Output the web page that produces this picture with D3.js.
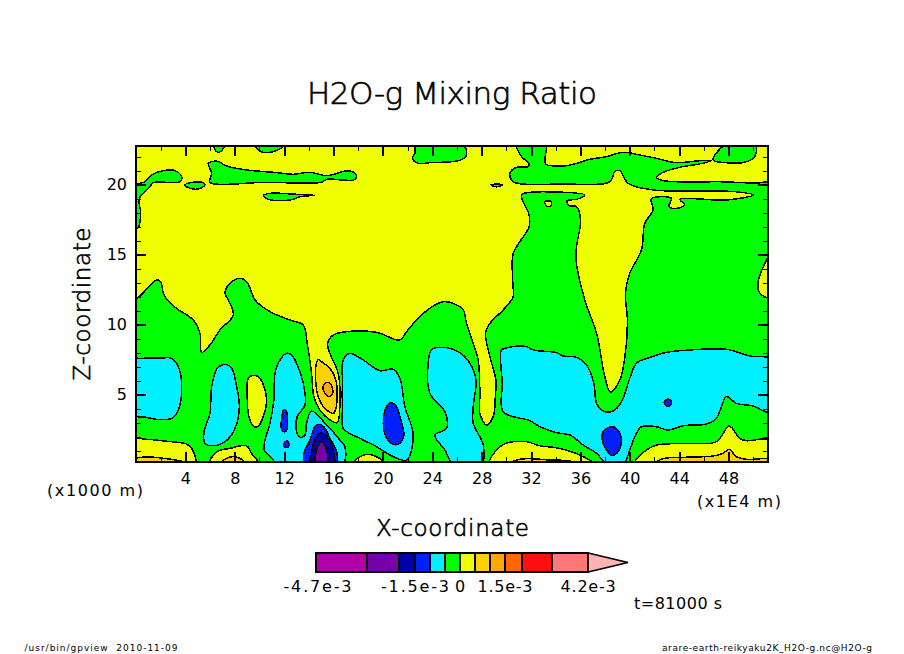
<!DOCTYPE html>
<html><head><meta charset="utf-8">
<script src="https://cdn.jsdelivr.net/npm/d3@7"></script>
<style>
html,body{margin:0;padding:0;background:#fff}
svg{display:block}
text{font-family:"DejaVu Sans",sans-serif;fill:#000}
</style></head><body><svg id="c" width="904" height="654"></svg>
<script>
const titleText="H2O-g Mixing Ratio", xTitle="X-coordinate", zTitle="Z-coordinate";
const xMajor=[4,8,12,16,20,24,28,32,36,40,44,48];
const xMinor=[2,6,10,14,18,22,26,30,34,38,42,46,50];
const zMajor=[5,10,15,20];
const zMinor=[1,2,3,4,6,7,8,9,11,12,13,14,16,17,18,19,21,22];
const levels=[-4.8e-3,-3.1e-3,-2.05e-3,-1.5e-3,-1e-3,-5e-4,0,5e-4,1e-3,1.5e-3,2.05e-3,3.05e-3,4.27e-3,5.6e-3];
const bandColors=["#b000a8","#7800a8","#0000a8","#0020ff","#00f0ff","#00ff00","#f0ff00","#ffd000","#ffa800","#ff6800","#ff1010","#ff7878","#ffb4b4"];
const barTicks=[["-4.7e-3",-4.75e-3,68],["-1.5e-3",-1.5e-3,68],["0",0,10],["1.5e-3",1.5e-3,55],["4.2e-3",4.27e-3,55]];

// contour outlines, [x (1E4 m), z (1000 m)]
const yellowMain=[[-.2,23],[25,23],[51.4,23],[51.4,21],[51.4,20.34],[47.02,20.22],[42.7,20.3],[42.16,20.53],[42.7,20.89],[44.32,21.3],[45.67,21.49],[46.62,21.72],[45.67,21.72],[43.78,21.58],[42.16,21.89],[40.81,22.13],[39.46,22.32],[38.12,22.01],[36.77,21.82],[35.69,21.53],[34.61,21.34],[33.18,21.49],[33.15,22],[33.2,23],[30.83,23],[31.23,22.01],[31.83,21.53],[31.77,21.3],[30.83,21.25],[30.29,20.82],[30.56,20.22],[34.61,20.06],[38.39,20.22],[38.79,20.94],[39.2,21.01],[39.87,20.1],[41.89,19.63],[44.32,19.56],[48.51,19.51],[50,19.27],[47.83,18.91],[44.05,18.96],[44.46,18.56],[43.78,18.32],[43.16,18.44],[43.38,19.03],[41.76,18.99],[41.89,18.2],[41.22,17.25],[40.95,15.34],[40,13.68],[39.65,12.25],[39.8,10.5],[39.73,8.67],[39.2,6.06],[38.44,5.18],[37.98,6.29],[37.31,9.39],[36.36,11.77],[35.63,14.87],[36.01,17.49],[35.69,18.44],[35.09,18.51],[34.93,18.87],[35.69,18.96],[36.36,19.27],[31.91,19.46],[31.23,19.27],[31.85,17.84],[31.85,17.01],[30.56,15.1],[30.5,13.5],[30.56,12.01],[30.42,11.77],[29.75,11.06],[28.67,10.1],[28.32,9.39],[28.67,7.72],[29.15,6.06],[29.1,4.7],[28.94,3.44],[28.4,2.84],[27.86,3.67],[27.86,5.1],[27.72,7.48],[27.32,8.67],[26.78,10.1],[26.51,11.06],[25.83,11.48],[24.89,11.65],[23.27,10.82],[21.92,9.51],[21.38,8.91],[19.49,9.46],[17.06,9.51],[15.98,9.27],[15.52,8.67],[15.71,7.96],[16.38,6.53],[16.52,4.63],[16.3,3.01],[15.71,3.2],[14.9,3.91],[14.41,4.87],[14.22,6.53],[13.87,8.67],[13.55,9.98],[12.47,10.34],[10.85,10.94],[9.64,11.77],[9.5,12],[8.96,13.08],[8.42,13.32],[7.61,12.96],[7.21,12.25],[7.48,11.77],[7.88,10.7],[6.8,9.63],[5.99,8.56],[5.32,8.03],[5.18,9.39],[4.64,10.34],[3.29,11.17],[2.54,11.77],[2.21,12.25],[2,13.08],[1.67,13.2],[-.2,11.8],[-.2,17]];
const greenLeftEdge=[[-.2,19.87],[.73,20.22],[1.27,20.7],[2.21,21.01],[3.16,21.01],[3.7,20.58],[3.56,20.22],[1.4,20.15],[1.13,19.87],[.27,19.03],[.38,17.96],[.19,16.96],[-.2,16.77]];
const greenSmallLeft=[[3.97,19.99],[4.64,20.18],[5.32,20.18],[5.59,19.99],[5.05,19.7],[4.37,19.75]];
const greenLongStrip=[[5.86,21.53],[6.59,21.68],[7.34,21.34],[8.96,21.06],[11.39,20.87],[12.74,20.75],[14.09,20.89],[15.44,20.65],[17.06,20.99],[17.65,20.89],[17.87,20.58],[17.65,20.34],[16.79,20.34],[15.44,20.39],[15.03,20.18],[10.5,20.18],[5.99,20.18],[6.13,20.82]];
const greenThinTail=[[10.31,19.22],[10.85,19.39],[13,19.32],[14.49,19.25],[13.28,19.15],[12.74,18.96],[11.12,18.89],[10.72,18.96]];
const greenTop1=[[6.34,23],[6.4,22.49],[6.67,22.32],[6.99,22.49],[7.21,23]];
const greenTop2=[[9.5,23],[9.91,22.49],[10.31,22.32],[11.39,22.44],[12.2,23]];
const greenTop3=[[22.73,23],[22.59,22.25],[22.4,21.89],[22.86,21.53],[23.81,21.58],[26.24,21.75],[26.78,22.13],[26.37,23]];
const greenTop4=[[47.97,23],[46.75,21.77],[47.83,21.58],[49.18,21.58],[50.13,22.01],[50.13,23]];
const greenTiny=[[28.75,20.01],[29.7,20.01],[29.34,19.87],[29.07,19.87]];
const yellowDot=[[33.12,18.8],[33.66,18.8],[33.61,18.51],[33.39,18.44],[33.2,18.56]];
const yellowRight=[[51.4,14.99],[50.4,13.08],[50.53,12.25],[51.4,11.96]];
const yellowLow1=[[-.2,1.82],[.86,1.82],[2.5,1.68],[4.1,1.48],[4.51,1.17],[4.78,.1],[-.2,.1]];
const goldLow1=[[-.2,.39],[.86,.56],[2.21,.46],[3.83,.22],[3.95,.1],[-.2,.1]];
const yellowLow2=[[6,.1],[6.53,.93],[7.61,1.17],[8.96,1.36],[9.36,.82],[9.9,.1]];
const goldLow2=[[6.86,.1],[7.34,.46],[7.88,.58],[8.56,.39],[8.83,.1]];
const yellowLow3=[[17.6,.1],[18.14,.58],[18.81,.75],[19.49,.58],[20.16,.1]];
const yellowLow4=[[28.67,.1],[29.48,1.29],[30.15,1.58],[31.64,1.65],[32.72,1.36],[34.34,1.17],[36.23,.58],[37.04,.1]];
const goldLow4=[[30.29,.1],[31.1,.39],[31.91,.44],[33.53,.34],[35.15,.27],[35.5,.1]];
const yellowLow5=[[40.41,.1],[41.35,1.06],[42.16,1.41],[44.32,1.53],[47.02,1.65],[48.05,2.77],[48.91,1.89],[49.45,1.72],[51.4,1.77],[51.4,.1]];
const goldLow5=[[42.03,.1],[42.7,.44],[44.32,.53],[46.75,.63],[47.56,.82],[48.05,1.1],[48.64,.58],[49.45,.39],[51.4,.39],[51.4,.1]];
const yellowIsland=[[9.64,6.39],[9.1,6.17],[9.01,4.87],[9.15,3.44],[9.55,2.72],[9.91,2.77],[10.36,3.56],[10.58,4.63],[10.39,5.53],[10.04,6.17]];
const cyanLeft=[[-.2,7.55],[.4,7.6],[2,7.63],[2.89,7.6],[3.43,7.01],[3.7,5.58],[3.43,3.91],[2.89,3.32],[1.67,3.25],[.86,3.39],[-.2,3.56],[-.4,5.5]];
const cyanSecond=[[7.21,7.17],[6.59,6.89],[6.13,5.58],[5.99,3.67],[5.51,2.37],[5.59,1.53],[6.13,1.36],[7.21,1.65],[8.02,2.6],[8.37,4.15],[8.15,5.58],[7.75,6.89]];
const cyanCentre=[[12.2,7.96],[11.66,7.48],[11.26,6.53],[11.17,4.63],[10.85,2.96],[10.45,1.77],[10.39,1.06],[11,.46],[11.4,.1],[14,-.2],[16.79,.1],[16.92,1.29],[16.52,1.77],[15.44,2.84],[14.22,3.84],[13.82,2.96],[13.69,2.13],[13.28,1.96],[13.01,2.37],[13.06,3.44],[13.69,4.27],[13.55,5.82],[13.01,7.25],[12.61,7.84]];
const cyanFourth=[[16.79,7.5],[17.33,7.96],[18.41,7.48],[19.76,6.72],[20.84,6.82],[21.38,6.17],[21.78,4.15],[22.46,2.13],[21.92,.34],[20.84,.58],[19.49,1.29],[18.14,1.89],[16.79,2.6],[16.72,4],[16.72,6]];
const cyanFifth=[[23.94,8.2],[24.89,8.39],[26.23,8.01],[27.05,7.25],[27.54,6.06],[27.32,4.15],[27.32,2.96],[28.13,1.41],[28,.1],[25.69,.1],[25.02,1.06],[24.21,2.13],[25.15,2.6],[25.02,3.79],[23.81,5.1],[23.67,7.25]];
const cyanBig=[[29.61,8.2],[30.56,8.44],[31.64,8.44],[32.18,8.2],[34.07,8.01],[34.61,7.77],[35.69,7.67],[36.5,7.13],[37.09,5.82],[37.31,4.39],[37.85,3.84],[38.66,3.84],[39.33,4.51],[40,6.17],[40.54,7.25],[41.62,7.67],[42.97,8.03],[44.86,8.2],[47.83,8.25],[49.72,7.77],[51.4,7.56],[51.6,5.5],[51.4,3.75],[49.99,4.2],[48.64,4.39],[47.83,4.87],[47.43,4.15],[47.02,3.32],[46.21,2.91],[44.32,2.79],[43.11,2.48],[42.16,2.72],[40.95,2.72],[40.41,2.01],[40,1.06],[39.52,.1],[38.12,.1],[37.31,.82],[36.23,1.41],[35.15,2.13],[34.07,2.29],[32.72,2.72],[31.91,3.15],[29.75,3.79],[29.67,5.82],[29.53,7.72]];
const blueA=[[11.93,3.91],[12.15,3.91],[12.28,2.72],[12.2,2.44],[11.93,2.37],[11.74,2.72],[11.82,3.32]];
const blueB=[[11.98,1.53],[12.25,1.72],[12.42,1.41],[12.2,1.22],[12.01,1.29]];
const blueC=[[20.7,4.44],[20.3,4.15],[20.03,2.96],[20.24,2.01],[20.84,1.46],[21.38,1.53],[21.7,2.13],[21.38,3.44],[21.11,4.15]];
const blueD=[[43.11,4.7],[43.3,4.62],[43.38,4.44],[43.3,4.26],[43.11,4.15],[42.92,4.26],[42.79,4.44],[42.92,4.62]];
const blueE=[[38.39,2.7],[38.84,2.65],[39.2,2.25],[39.33,1.65],[39.06,.94],[38.57,.65],[38.12,1.06],[37.79,1.65],[37.85,2.37]];
const blueF=[[14.84,2.89],[14.49,2.72],[14.09,1.77],[13.6,.82],[13.68,.1],[16.25,.1],[16.25,.93],[15.71,1.89],[15.22,2.72]];
const navyF=[[14.9,2.25],[14.49,1.77],[14.22,.82],[14.22,.1],[16.03,.1],[15.98,1.06],[15.57,1.89],[15.22,2.2]];
const purpleF=[[15.03,1.65],[14.68,1.17],[14.57,.1],[15.44,.1],[15.44,1.06]];
const goldLens=[[14.76,7.53],[14.57,7.01],[14.57,5.82],[14.76,4.87],[15.3,4.03],[15.98,3.67],[16.11,3.79],[16.3,4.87],[16.19,6.06],[15.71,6.89],[15.03,7.37]];
const orangeLens=[[15.44,5.89],[15.17,5.63],[15.3,5.1],[15.63,4.87],[15.9,5.03],[15.9,5.53],[15.71,5.82]];

// painter's order: [band index, outline]
const layers=[[6,yellowMain],[5,greenLeftEdge],[5,greenSmallLeft],[5,greenLongStrip],[5,greenThinTail],[5,greenTop1],[5,greenTop2],[5,greenTop3],[5,greenTop4],[5,greenTiny],
[6,yellowDot],[6,yellowRight],[6,yellowLow1],[7,goldLow1],[6,yellowLow2],[7,goldLow2],[6,yellowLow3],[6,yellowLow4],[7,goldLow4],[6,yellowLow5],[7,goldLow5],[6,yellowIsland],
[4,cyanLeft],[4,cyanSecond],[4,cyanCentre],[4,cyanFourth],[4,cyanFifth],[4,cyanBig],
[3,blueA],[3,blueB],[3,blueC],[3,blueD],[3,blueE],[3,blueF],[2,navyF],[1,purpleF],[7,goldLens],[8,orangeLens]];

const svg=d3.select("#c");
const L=136,R=768,T=146,B=462;
const x=d3.scaleLinear().domain([0,51.2]).range([L,R]);
const z=d3.scaleLinear().domain([.2,22.77]).range([B,T]);
const defs=svg.append("defs");
defs.append("clipPath").attr("id","plot").append("rect").attr("x",L).attr("y",T).attr("width",R-L).attr("height",B-T);

const plot=svg.append("g").attr("clip-path","url(#plot)");
plot.append("rect").attr("x",L).attr("y",T).attr("width",R-L).attr("height",B-T).attr("fill",bandColors[5]);
const line=d3.line().x(d=>x(d[0])).y(d=>z(d[1])).curve(d3.curveCatmullRomClosed.alpha(.5));
plot.selectAll("path").data(layers).join("path")
  .attr("d",d=>line(d[1])).attr("fill",d=>bandColors[d[0]])
  .attr("stroke","#000").attr("stroke-width",1.5).attr("stroke-linejoin","round").attr("shape-rendering","crispEdges");

function axisDraw(gen,tx,ty,w){
  const g=svg.append("g").attr("transform",`translate(${tx},${ty})`).call(gen);
  g.select(".domain").remove();
  g.selectAll("line").attr("stroke","#000").attr("stroke-width",w).attr("shape-rendering","crispEdges");
  return g;
}
const none=()=> "";
[[d3.axisBottom,B],[d3.axisTop,T]].forEach(([a,p],i)=>{
  const maj=axisDraw(a(x).tickValues(xMajor).tickSizeInner(-10).tickSizeOuter(0).tickPadding(i?0:11).tickFormat(i?none:d3.format("d")),0,p,2);
  axisDraw(a(x).tickValues(xMinor).tickSizeInner(-5).tickSizeOuter(0).tickFormat(none),0,p,1);
  maj.selectAll("text").attr("font-size",16).attr("font-family",'"DejaVu Sans"').attr("fill","#000");
});
[[d3.axisLeft,L],[d3.axisRight,R]].forEach(([a,p],i)=>{
  const maj=axisDraw(a(z).tickValues(zMajor).tickSizeInner(-10).tickSizeOuter(0).tickPadding(9).tickFormat(i?none:d3.format("d")),p,0,2);
  axisDraw(a(z).tickValues(zMinor).tickSizeInner(-5).tickSizeOuter(0).tickFormat(none),p,0,1);
  maj.selectAll("text").attr("font-size",16).attr("font-family",'"DejaVu Sans"').attr("fill","#000");
});
svg.append("rect").attr("x",L).attr("y",T).attr("width",R-L).attr("height",B-T).attr("fill","none").attr("stroke","#000").attr("stroke-width",2).attr("shape-rendering","crispEdges");

function label(s,cx,cy,size,len,rot,weight){
  const t=svg.append("text").text(s).attr("text-anchor","middle").attr("dominant-baseline","central")
    .attr("font-size",size).attr("textLength",len).attr("lengthAdjust","spacing");
  if(weight) t.attr("font-weight",weight).attr("stroke","#000").attr("stroke-width",.6);
  t.attr("transform",`translate(${cx},${cy})`+(rot?` rotate(${rot})`:""));
  return t;
}
label(titleText,452,93,31,290,0,200);
label(xTitle,452.5,528,23,153,0,200);
label(zTitle,82,304,23,153,-90,200);
label("(x1000 m)",95,490,16,96);
label("(x1E4 m)",739,501,16,84);
label("t=81000 s",678,603,16,88);
label("/usr/bin/gpview  2010-11-09",101,648,9,153).style("white-space","pre");
label("arare-earth-reikyaku2K_H2O-g.nc@H2O-g",767,648,9,210);

// colour bar
const c=d3.scaleLinear().domain([0,5.6e-3]).range([460,628]);
const barY=553,barH=19;
const bar=svg.append("g").attr("stroke","#000").attr("stroke-width",2).attr("shape-rendering","crispEdges");
d3.pairs(levels).slice(0,12).forEach(([a,b],i)=>{
  bar.append("rect").attr("x",c(a)).attr("y",barY).attr("width",c(b)-c(a)).attr("height",barH).attr("fill",bandColors[i]);
});
svg.append("path").attr("d",`M${c(levels[12])},${barY}L${c(levels[13])},${barY+barH/2}L${c(levels[12])},${barY+barH}Z`)
  .attr("fill",bandColors[12]).attr("stroke","#000").attr("stroke-width",1.6);
barTicks.forEach(([s,v,len])=>label(s,c(v),586,16,len));
</script></body></html>
